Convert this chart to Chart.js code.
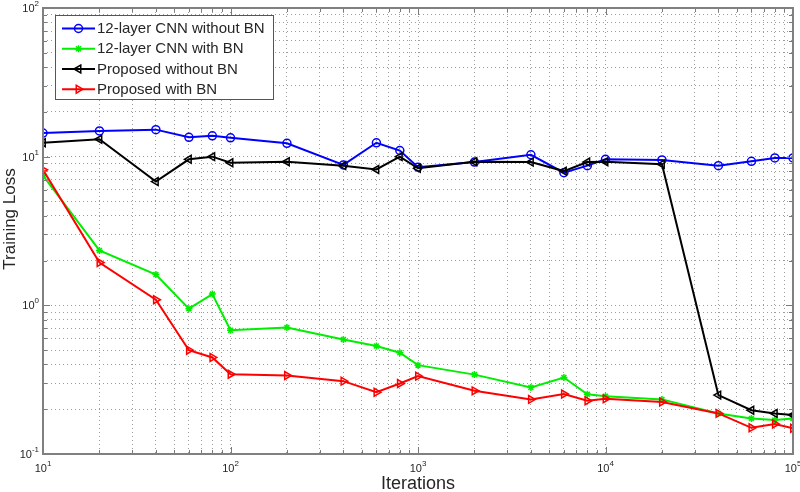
<!DOCTYPE html>
<html>
<head>
<meta charset="utf-8">
<script src="https://cdn.jsdelivr.net/npm/chart.js@4.4.0/dist/chart.umd.min.js"></script>
<style>
  html, body { margin: 0; padding: 0; background: #ffffff; }
  #wrap { width: 800px; height: 492px; position: relative; }
</style>
</head>
<body>
<div id="wrap"><canvas id="c" width="800" height="492"></canvas></div>
<script>
// ---- data ----
const iterations = [10, 20, 40, 60, 80, 100, 200, 400, 600, 800, 1000, 2000, 4000, 6000, 8000, 10000, 20000, 40000, 60000, 80000, 100000];
const cnnWithoutBN = [14.4, 14.9, 15.2, 13.5, 13.8, 13.4, 12.3, 8.8, 12.4, 11.0, 8.5, 9.2, 10.3, 7.8, 8.7, 9.6, 9.5, 8.7, 9.3, 9.8, 9.8];
const cnnWithBN = [7.45, 2.34, 1.61, 0.95, 1.19, 0.68, 0.71, 0.59, 0.533, 0.48, 0.396, 0.342, 0.28, 0.327, 0.252, 0.245, 0.233, 0.1875, 0.173, 0.169, 0.173];
const proposedWithoutBN = [12.4, 13.1, 6.8, 9.6, 10.0, 9.1, 9.25, 8.7, 8.2, 10.0, 8.35, 9.25, 9.2, 8.0, 9.2, 9.25, 8.9, 0.249, 0.197, 0.1875, 0.183];
const proposedWithBN = [8.15, 1.94, 1.09, 0.499, 0.446, 0.344, 0.337, 0.309, 0.26, 0.298, 0.334, 0.266, 0.233, 0.253, 0.228, 0.235, 0.224, 0.1875, 0.15, 0.159, 0.149];
const seriesNames = ['12-layer CNN without BN', '12-layer CNN with BN', 'Proposed without BN', 'Proposed with BN'];
const xTickExponents = [1, 2, 3, 4, 5];
const yTickExponents = [-1, 0, 1, 2];
const xTitle = 'Iterations';
const yTitle = 'Training Loss';

function toPoints(vals) { return iterations.map((x, i) => ({ x: x, y: vals[i] })); }

function logTicks(minExp, maxExp) {
  const out = [];
  for (let e = minExp; e < maxExp; e++) {
    for (let m = 1; m <= 9; m++) out.push({ value: m * Math.pow(10, e), major: m === 1 });
  }
  out.push({ value: Math.pow(10, maxExp), major: true });
  return out;
}

const styles = [
  { color: '#0000ff', pointStyle: 'circle', radius: 4, rotation: 0 },
  { color: '#00ee00', pointStyle: 'star', radius: 3.5, rotation: 0 },
  { color: '#000000', pointStyle: 'triangle', radius: 4.5, rotation: -90 },
  { color: '#ff0000', pointStyle: 'triangle', radius: 4.5, rotation: 90 }
];
const seriesData = [cnnWithoutBN, cnnWithBN, proposedWithoutBN, proposedWithBN];

const datasets = seriesData.map((vals, i) => ({
  label: seriesNames[i],
  data: toPoints(vals),
  borderColor: styles[i].color,
  backgroundColor: 'rgba(0,0,0,0)',
  pointBorderColor: styles[i].color,
  pointBackgroundColor: i === 1 ? styles[i].color : 'rgba(0,0,0,0)',
  pointStyle: styles[i].pointStyle,
  pointRadius: styles[i].radius,
  pointRotation: styles[i].rotation,
  pointBorderWidth: 1.5,
  borderWidth: 2,
  tension: 0,
  fill: false,
  order: 3 - i
}));

const TXT = '#262626';

const decorPlugin = {
  id: 'decor',
  afterDraw(chart) {
    const ctx = chart.ctx;
    const a = chart.chartArea;
    const xs = chart.scales.x, ys = chart.scales.y;
    ctx.save();
    // tick marks on all four sides
    ctx.strokeStyle = '#7a7a7a';
    ctx.lineWidth = 1;
    xs.ticks.forEach(t => {
      const px = Math.round(xs.getPixelForValue(t.value)) + 0.5;
      const len = t.major ? 7 : 4;
      ctx.beginPath();
      ctx.moveTo(px, a.bottom); ctx.lineTo(px, a.bottom - len);
      ctx.moveTo(px, a.top); ctx.lineTo(px, a.top + len);
      ctx.stroke();
    });
    ys.ticks.forEach(t => {
      const py = Math.round(ys.getPixelForValue(t.value)) + 0.5;
      const len = t.major ? 7 : 4;
      ctx.beginPath();
      ctx.moveTo(a.left, py); ctx.lineTo(a.left + len, py);
      ctx.moveTo(a.right, py); ctx.lineTo(a.right - len, py);
      ctx.stroke();
    });
    // box
    ctx.strokeStyle = '#808080';
    ctx.lineWidth = 2;
    ctx.strokeRect(a.left, a.top, a.right - a.left, a.bottom - a.top);

    // tick labels with superscript exponents
    ctx.fillStyle = TXT;
    const base = '11px "Liberation Sans", Arial, sans-serif';
    const sup = '8px "Liberation Sans", Arial, sans-serif';
    ctx.textBaseline = 'alphabetic';
    xTickExponents.forEach(e => {
      const px = xs.getPixelForValue(Math.pow(10, e));
      ctx.font = base; const w1 = ctx.measureText('10').width;
      ctx.font = sup; const w2 = ctx.measureText(String(e)).width;
      const x0 = px - (w1 + w2) / 2;
      ctx.font = base; ctx.textAlign = 'left'; ctx.fillText('10', x0, a.bottom + 18);
      ctx.font = sup; ctx.fillText(String(e), x0 + w1, a.bottom + 12);
    });
    yTickExponents.forEach(e => {
      const py = ys.getPixelForValue(Math.pow(10, e));
      const label = e < 0 ? '-' + Math.abs(e) : String(e);
      ctx.font = base; const w1 = ctx.measureText('10').width;
      ctx.font = sup; const w2 = ctx.measureText(label).width;
      const right = a.left - 4;
      const x0 = right - w1 - w2;
      ctx.font = base; ctx.textAlign = 'left'; ctx.fillText('10', x0, py + 4);
      ctx.font = sup; ctx.fillText(label, x0 + w1, py - 2);
    });

    // axis titles
    ctx.font = '18px "Liberation Sans", Arial, sans-serif';
    ctx.textAlign = 'center';
    ctx.fillText(xTitle, (a.left + a.right) / 2, 489);
    ctx.save();
    ctx.translate(15, 219);
    ctx.rotate(-Math.PI / 2);
    ctx.font = '17px "Liberation Sans", Arial, sans-serif';
    ctx.fillText(yTitle, 0, 0);
    ctx.restore();

    // legend box
    const lx = 55, ly = 15, lw = 218, lh = 84;
    ctx.fillStyle = '#ffffff';
    ctx.fillRect(lx, ly, lw, lh);
    ctx.strokeStyle = '#555555';
    ctx.lineWidth = 1;
    ctx.strokeRect(lx + 0.5, ly + 0.5, lw, lh);
    const rows = [28.5, 48.8, 69, 89.2];
    chart.data.datasets.forEach((ds, i) => {
      const y = rows[i];
      ctx.strokeStyle = ds.borderColor;
      ctx.lineWidth = ds.borderWidth;
      ctx.beginPath(); ctx.moveTo(62, y); ctx.lineTo(95, y); ctx.stroke();
      ctx.lineWidth = ds.pointBorderWidth;
      ctx.fillStyle = ds.pointBackgroundColor;
      Chart.helpers.drawPoint(ctx, { pointStyle: ds.pointStyle, radius: ds.pointRadius, rotation: ds.pointRotation, borderWidth: ds.pointBorderWidth }, 78.5, y);
      ctx.fillStyle = TXT;
      ctx.font = '15px "Liberation Sans", Arial, sans-serif';
      ctx.textAlign = 'left';
      ctx.textBaseline = 'middle';
      ctx.fillText(ds.label, 97, y + 0.5);
    });
    ctx.restore();
  }
};

new Chart(document.getElementById('c'), {
  type: 'line',
  data: { datasets: datasets },
  options: {
    responsive: false,
    animation: false,
    devicePixelRatio: 1,
    layout: { padding: { left: 43, right: 7, top: 8, bottom: 38 } },
    plugins: { legend: { display: false }, tooltip: { enabled: false } },
    scales: {
      x: {
        type: 'logarithmic', min: 10, max: 100000,
        afterBuildTicks: s => { s.ticks = logTicks(1, 5); },
        ticks: { display: false },
        grid: { color: '#9c9c9c', lineWidth: 1, drawTicks: false },
        border: { display: false, dash: [1, 3] }
      },
      y: {
        type: 'logarithmic', min: 0.1, max: 100,
        afterBuildTicks: s => { s.ticks = logTicks(-1, 2); },
        ticks: { display: false },
        grid: { color: '#9c9c9c', lineWidth: 1, drawTicks: false },
        border: { display: false, dash: [1, 3] }
      }
    }
  },
  plugins: [decorPlugin]
});
</script>
</body>
</html>
